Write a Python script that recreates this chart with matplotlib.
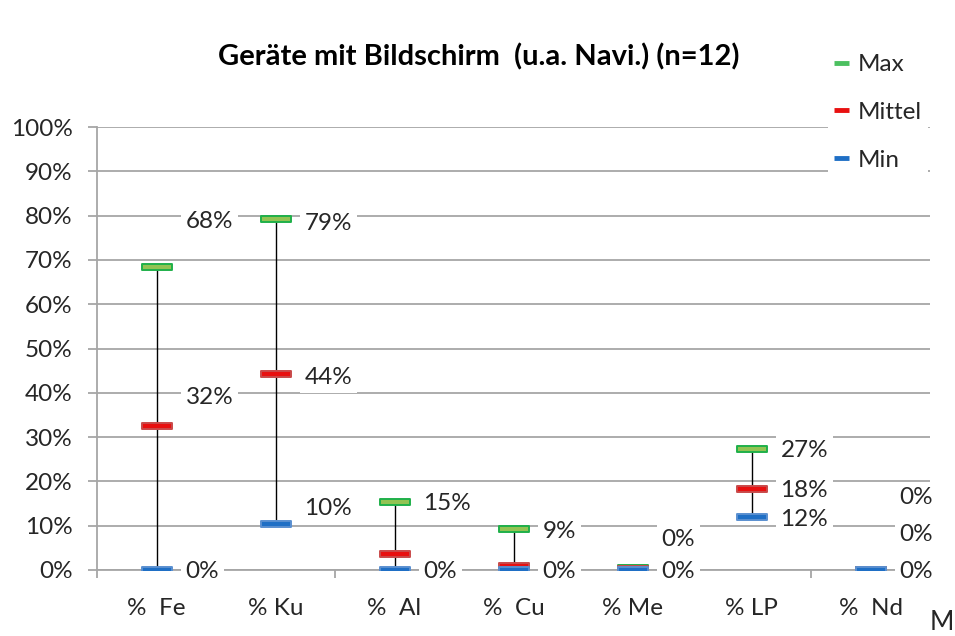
import matplotlib.pyplot as plt
from matplotlib.lines import Line2D
from matplotlib.path import Path
import numpy as np

plt.rcParams['font.family'] = ['Lato', 'DejaVu Sans']

categories = ['%  Fe', '% Ku', '%  Al', '%  Cu', '% Me', '% LP', '%  Nd']
max_vals = [68.4, 79.2, 15.4, 9.3, 0.45, 27.4, 0.0]
mean_vals = [32.4, 44.3, 3.6, 0.9, 0.2, 18.2, 0.1]
min_vals = [0.0, 10.4, 0.0, 0.0, 0.0, 11.9, 0.0]

# label vertical shift in pixels (None = label hidden behind others)
dy_max = [45, -4, -2, -3, 29, -2, 73]
dy_mean = [29, -4, None, None, None, -1, 35]
dy_min = [-2, 15, -2, -2, -2, -2, -2]

txt = '#262626'
grid_c = '#a6a6a6'
fs = 17.5

fig = plt.figure(figsize=(9.55, 6.36), dpi=100)
ax = fig.add_axes([97 / 955, 1 - 570 / 636, 833 / 955, 443 / 636])
x = np.arange(len(categories))

ax.vlines(x, min_vals, max_vals, color='black', lw=1.0, zorder=3)

bar = Path([(-1, -0.18), (1, -0.18), (1, 0.18), (-1, 0.18), (-1, -0.18)],
           [Path.MOVETO, Path.LINETO, Path.LINETO, Path.LINETO, Path.CLOSEPOLY])
series = [
    ('Max', max_vals, '#92c353', '#1fb04a', dy_max),
    ('Mittel', mean_vals, '#e81010', '#c94a4a', dy_mean),
    ('Min', min_vals, '#1f6fc5', '#5a8fd0', dy_min),
]
for name, vals, fc, ec, dys in series:
    ax.plot(x, vals, linestyle='none', marker=bar, markersize=21.5,
            mfc=fc, mec=ec, mew=1.4, zorder=4)

for name, vals, fc, ec, dys in series:
    for xi, v, d in zip(x, vals, dys):
        if d is None:
            continue
        ax.annotate(f'{round(v)}%', (xi, v), xytext=(29 * 0.72, d * 0.72),
                    textcoords='offset points', ha='left', va='center',
                    fontsize=fs, color=txt, zorder=5,
                    bbox=dict(boxstyle='square,pad=0.2', fc='white', ec='none'))

ax.set_xlim(-0.5, len(categories) - 0.5)
ax.set_ylim(0, 100)
ax.set_yticks(np.arange(0, 101, 10))
ax.set_yticklabels([f'{t}%' for t in range(0, 101, 10)], fontsize=fs, color=txt)
ax.yaxis.grid(True, color=grid_c, lw=1.3, zorder=0)
ax.set_axisbelow(True)
ax.tick_params(axis='y', length=6.5, color=grid_c, width=1.3, pad=11)

ax.set_xticks(x)
ax.set_xticklabels(categories, fontsize=fs, color=txt)
ax.tick_params(axis='x', length=0, pad=20)
ax.set_xticks(np.arange(-0.5, len(categories), 2), minor=True)
ax.tick_params(axis='x', which='minor', length=6, color=grid_c, width=1.3)

for side in ['top', 'right']:
    ax.spines[side].set_visible(False)
for side in ['left', 'bottom']:
    ax.spines[side].set_color(grid_c)
    ax.spines[side].set_linewidth(1.3)

fig.text(479 / 955, 1 - 57 / 636, 'Geräte mit Bildschirm  (u.a. Navi.) (n=12)',
         ha='center', va='center', fontsize=21, fontweight='bold', color='black')

handles = [Line2D([], [], color=fc, lw=3.5, solid_capstyle='butt') for _, _, fc, _, _ in series]
handles[0].set_color('#4cc060')
leg = fig.legend(handles, [s[0] for s in series], loc='upper left',
                 bbox_to_anchor=(816 / 955, 1 - 36 / 636), frameon=True,
                 fontsize=fs, handlelength=0.6, handletextpad=0.35,
                 labelspacing=1.1, borderpad=0.25, labelcolor=txt)
leg.get_frame().set_facecolor('white')
leg.get_frame().set_edgecolor('none')
leg.get_frame().set_alpha(1)

fig.text(954 / 955, 1 - 622 / 636, 'M', ha='right', va='center', fontsize=19, color=txt)

fig.savefig('out.png', dpi=100)
